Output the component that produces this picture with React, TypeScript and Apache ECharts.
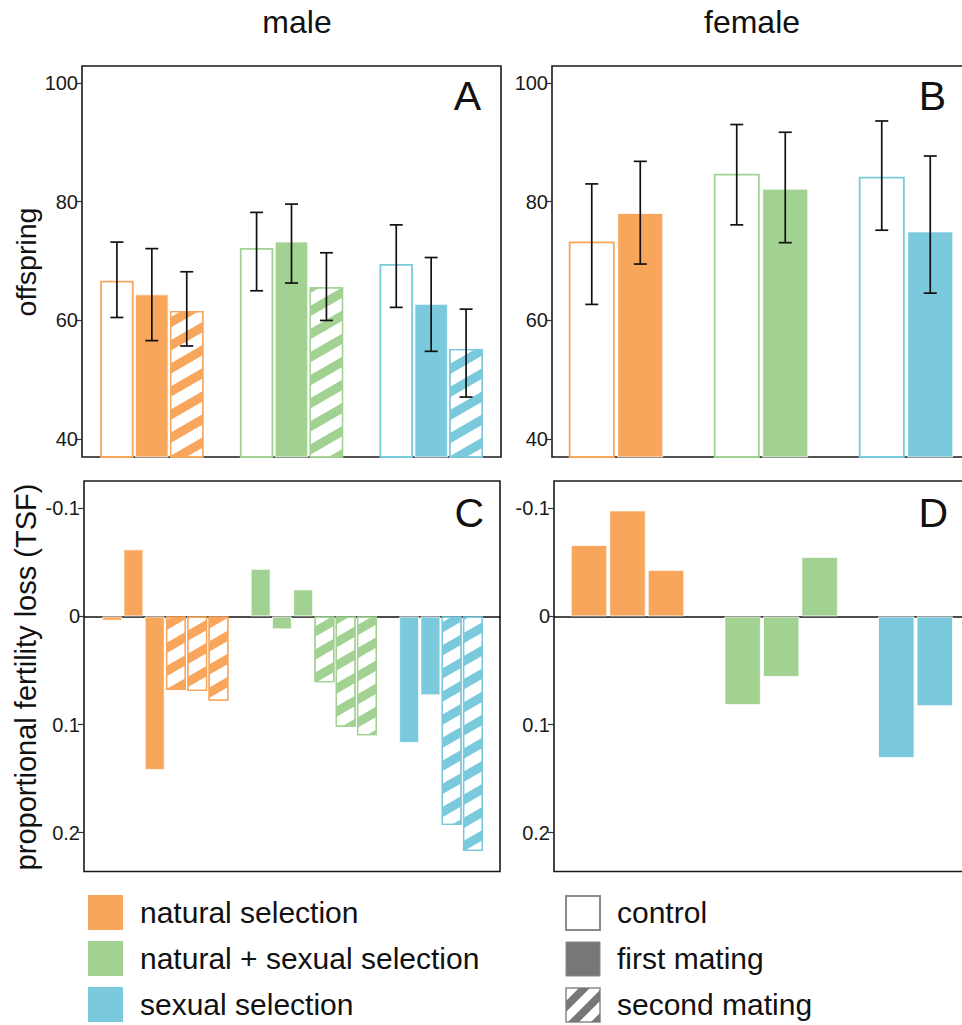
import React, { useEffect, useRef } from 'react';
import * as echarts from 'echarts';

// ---------- data ----------
const groups = ['natural selection', 'natural + sexual selection', 'sexual selection'];
const matingTypes = ['control', 'first mating', 'second mating'];

// Panel A: male offspring (mean, lower, upper)
const maleControl = [66.7, 72.2, 69.5];
const maleControlLo = [60.5, 65.0, 62.2];
const maleControlHi = [73.2, 78.2, 76.1];
const maleFirst = [64.4, 73.3, 62.8];
const maleFirstLo = [56.6, 66.3, 54.8];
const maleFirstHi = [72.1, 79.6, 70.6];
const maleSecond = [61.6, 65.6, 55.2];
const maleSecondLo = [55.7, 60.0, 47.1];
const maleSecondHi = [68.2, 71.4, 61.9];

// Panel B: female offspring
const femaleControl = [73.3, 84.7, 84.2];
const femaleControlLo = [62.7, 76.1, 75.2];
const femaleControlHi = [83.0, 93.0, 93.6];
const femaleFirst = [78.1, 82.2, 75.0];
const femaleFirstLo = [69.5, 73.1, 64.6];
const femaleFirstHi = [86.8, 91.7, 87.7];

// Panel C: male proportional fertility loss (TSF), per replicate
const maleTsfNatural = [0.004, -0.062, 0.142, 0.068, 0.069, 0.078];
const maleTsfNatSex = [-0.044, 0.012, -0.025, 0.061, 0.102, 0.110];
const maleTsfSexual = [0.117, 0.073, 0.193, 0.217];
const maleTsfMatingNatural = ['first', 'first', 'first', 'second', 'second', 'second'];
const maleTsfMatingNatSex = ['first', 'first', 'first', 'second', 'second', 'second'];
const maleTsfMatingSexual = ['first', 'first', 'second', 'second'];

// Panel D: female proportional fertility loss (TSF)
const femaleTsfNatural = [-0.066, -0.098, -0.043];
const femaleTsfNatSex = [0.082, 0.056, -0.055];
const femaleTsfSexual = [0.131, 0.083];

const offspringTicks = [40, 60, 80, 100];
const tsfTicks = [-0.1, 0, 0.1, 0.2];

// ---------- style ----------
const FONT = '"Liberation Sans", Arial, Helvetica, sans-serif';
const groupColors = ['#F8A65C', '#A2D292', '#7AC9DC'];
const matingSwatch = '#777777';

const hatchDecal = (c: string) => ({
  symbol: 'rect',
  symbolSize: 1,
  dashArrayX: [1, 0],
  dashArrayY: [9, 11],
  rotation: -Math.PI / 6,
  color: c,
  backgroundColor: '#ffffff',
});

const styleFor = (type: string, c: string) => {
  if (type === 'control') return { color: '#ffffff', borderColor: c, borderWidth: 1.8 };
  if (type === 'first') return { color: c, borderColor: 'rgba(255,255,255,0.75)', borderWidth: 1 };
  return { color: '#ffffff', borderColor: c, borderWidth: 1.3, decal: hatchDecal(c) };
};

const panels = [
  { grid: { left: 82, top: 66, width: 419, height: 391 }, xMin: 0.5, xMax: 3.5, yMin: 37, yMax: 102.86, inverse: false, ticks: offspringTicks, pitch: 0.25, barWidth: 33.5 },
  { grid: { left: 552, top: 66, width: 416, height: 391 }, xMin: 0.5586, xMax: 3.4276, yMin: 37, yMax: 102.86, inverse: false, ticks: offspringTicks, pitch: 0.3345, barWidth: 46 },
  { grid: { left: 84, top: 481, width: 416, height: 390.5 }, xMin: 0.4525, xMax: 3.2538, yMin: -0.1252, yMax: 0.2359, inverse: true, ticks: tsfTicks, pitch: 0.1432, barWidth: 20 },
  { grid: { left: 554, top: 481, width: 414, height: 390.5 }, xMin: 0.5216, xMax: 3.216, yMin: -0.1252, yMax: 0.2359, inverse: true, ticks: tsfTicks, pitch: 0.2506, barWidth: 36.5 },
];

// ---------- build series data ----------
type Item = { value: number[]; itemStyle: any };

function buildOffspring(arrs: number[][], types: string[], pitch: number): Item[] {
  const out: Item[] = [];
  const n = arrs.length;
  groups.forEach((_, g) => {
    arrs.forEach((arr, k) => {
      out.push({ value: [g + 1 + (k - (n - 1) / 2) * pitch, arr[g]], itemStyle: styleFor(types[k], groupColors[g]) });
    });
  });
  return out;
}

function buildErrors(means: number[][], los: number[][], his: number[][], pitch: number) {
  const out: number[][] = [];
  const n = means.length;
  groups.forEach((_, g) => {
    means.forEach((_m, k) => {
      out.push([g + 1 + (k - (n - 1) / 2) * pitch, los[k][g], his[k][g]]);
    });
  });
  return out;
}

function buildTsf(vals: number[][], types: string[][], pitch: number, slots: number): Item[] {
  const out: Item[] = [];
  vals.forEach((arr, g) => {
    arr.forEach((v, k) => {
      out.push({ value: [g + 1 + (k - (slots - 1) / 2) * pitch, v], itemStyle: styleFor(types[g][k], groupColors[g]) });
    });
  });
  return out;
}

// stripe polygon helper for the legend swatch
function clipHalf(poly: number[][], keep: (p: number[]) => number): number[][] {
  const res: number[][] = [];
  for (let i = 0; i < poly.length; i++) {
    const a = poly[i];
    const b = poly[(i + 1) % poly.length];
    const fa = keep(a);
    const fb = keep(b);
    if (fa >= 0) res.push(a);
    if ((fa >= 0) !== (fb >= 0)) {
      const t = fa / (fa - fb);
      res.push([a[0] + t * (b[0] - a[0]), a[1] + t * (b[1] - a[1])]);
    }
  }
  return res;
}
function stripe(x0: number, y0: number, s: number, c1: number, c2: number) {
  let poly = [[0, 0], [s, 0], [s, s], [0, s]];
  poly = clipHalf(poly, (p) => p[0] + p[1] - c1);
  poly = clipHalf(poly, (p) => c2 - (p[0] + p[1]));
  return poly.map((p) => [x0 + p[0], y0 + p[1]]);
}

function errorRenderer(params: any, api: any) {
  const x = api.value(0);
  const pLo = api.coord([x, api.value(1)]);
  const pHi = api.coord([x, api.value(2)]);
  const hw = 6.5;
  const style = { stroke: '#111111', lineWidth: 1.7, fill: null };
  return {
    type: 'group',
    children: [
      { type: 'line', shape: { x1: pLo[0], y1: pLo[1], x2: pHi[0], y2: pHi[1] }, style },
      { type: 'line', shape: { x1: pLo[0] - hw, y1: pLo[1], x2: pLo[0] + hw, y2: pLo[1] }, style },
      { type: 'line', shape: { x1: pHi[0] - hw, y1: pHi[1], x2: pHi[0] + hw, y2: pHi[1] }, style },
    ],
  };
}

export default function App() {
  const ref = useRef<HTMLDivElement>(null);
  useEffect(() => {
    if (!ref.current) return;
    const chart = echarts.init(ref.current, null, { renderer: 'svg' });

    const grids = panels.map((p) => ({
      ...p.grid,
      containLabel: false,
      outerBoundsMode: 'none',
      show: true,
      borderColor: '#1a1a1a',
      borderWidth: 1.6,
      backgroundColor: 'transparent',
    }));

    const xAxes = panels.map((p, i) => ({
      type: 'value',
      gridIndex: i,
      min: p.xMin,
      max: p.xMax,
      axisLabel: { show: false },
      axisTick: { show: false },
      splitLine: { show: false },
      axisLine: { show: p.inverse, onZero: true, lineStyle: { color: '#111111', width: 1.6 } },
    }));

    const yAxes = panels.map((p, i) => ({
      type: 'value',
      gridIndex: i,
      min: p.yMin,
      max: p.yMax,
      inverse: p.inverse,
      axisLine: { show: false },
      splitLine: { show: false },
      axisTick: { show: true, length: 6, customValues: p.ticks, lineStyle: { color: '#333333', width: 1.2 } },
      axisLabel: {
        customValues: p.ticks,
        fontSize: 20,
        color: '#1a1a1a',
        fontFamily: FONT,
        margin: 4,
        formatter: (v: number) => (Math.abs(v) < 1e-9 ? '0' : String(Math.round(v * 100) / 100)),
      },
    }));

    const dataA = buildOffspring([maleControl, maleFirst, maleSecond], ['control', 'first', 'second'], panels[0].pitch);
    const errA = buildErrors([maleControl, maleFirst, maleSecond], [maleControlLo, maleFirstLo, maleSecondLo], [maleControlHi, maleFirstHi, maleSecondHi], panels[0].pitch);
    const dataB = buildOffspring([femaleControl, femaleFirst], ['control', 'first'], panels[1].pitch);
    const errB = buildErrors([femaleControl, femaleFirst], [femaleControlLo, femaleFirstLo], [femaleControlHi, femaleFirstHi], panels[1].pitch);
    const dataC = buildTsf(
      [maleTsfNatural, maleTsfNatSex, maleTsfSexual],
      [maleTsfMatingNatural, maleTsfMatingNatSex, maleTsfMatingSexual],
      panels[2].pitch,
      6,
    );
    const dataD = buildTsf(
      [femaleTsfNatural, femaleTsfNatSex, femaleTsfSexual],
      [['first', 'first', 'first'], ['first', 'first', 'first'], ['first', 'first']],
      panels[3].pitch,
      3,
    );

    const barSeries = [dataA, dataB, dataC, dataD].map((d, i) => ({
      type: 'bar',
      xAxisIndex: i,
      yAxisIndex: i,
      barWidth: panels[i].barWidth,
      data: d,
      clip: true,
      silent: true,
      z: 2,
    }));

    const errSeries = [errA, errB].map((d, i) => ({
      type: 'custom',
      xAxisIndex: i,
      yAxisIndex: i,
      data: d,
      encode: { x: 0, y: [1, 2] },
      renderItem: errorRenderer,
      clip: false,
      silent: true,
      z: 5,
    }));

    const txt = (text: string, x: number, y: number, size: number, extra: any = {}) => ({
      type: 'text',
      x,
      y,
      style: { text, fontSize: size, fontFamily: FONT, fill: '#111111', align: 'center', verticalAlign: 'middle', ...extra },
      z: 10,
    });

    const graphics: any[] = [
      txt('male', 297, 22, 32),
      txt('female', 752, 22, 32),
      { ...txt('offspring', 26, 262, 28.5), rotation: Math.PI / 2 },
      { ...txt('proportional fertility loss (TSF)', 26, 677, 29), rotation: Math.PI / 2 },
      txt('A', 481, 96, 41, { align: 'right' }),
      txt('B', 946, 96, 41, { align: 'right' }),
      txt('C', 484, 513, 41, { align: 'right' }),
      txt('D', 948, 513, 41, { align: 'right' }),
    ];

    const legendRowsY = [895, 941, 987];
    const sq = 35;
    groups.forEach((g, i) => {
      graphics.push({ type: 'rect', shape: { x: 88, y: legendRowsY[i], width: sq, height: sq }, style: { fill: groupColors[i] }, z: 10 });
      graphics.push(txt(g, 140, legendRowsY[i] + sq / 2, 30, { align: 'left' }));
    });
    // mating legend
    graphics.push({ type: 'rect', shape: { x: 566, y: legendRowsY[0] + 1, width: sq - 1, height: sq - 1 }, style: { fill: '#ffffff', stroke: '#8a8a8a', lineWidth: 2 }, z: 10 });
    graphics.push({ type: 'rect', shape: { x: 566, y: legendRowsY[1] + 1, width: sq - 1, height: sq - 1 }, style: { fill: matingSwatch, stroke: '#888888', lineWidth: 1 }, z: 10 });
    graphics.push({ type: 'rect', shape: { x: 566, y: legendRowsY[2] + 1, width: sq - 1, height: sq - 1 }, style: { fill: '#ffffff', stroke: '#8a8a8a', lineWidth: 1.5 }, z: 10 });
    [[13, 24], [36, 47], [59, 70]].forEach(([a, b]) => {
      graphics.push({ type: 'polygon', shape: { points: stripe(566, legendRowsY[2] + 1, sq - 1, a, b) }, style: { fill: matingSwatch }, z: 11 });
    });
    matingTypes.forEach((m, i) => {
      graphics.push(txt(m, 617, legendRowsY[i] + sq / 2, 30, { align: 'left' }));
    });

    chart.setOption({
      animation: false,
      backgroundColor: '#ffffff',
      grid: grids,
      xAxis: xAxes,
      yAxis: yAxes,
      series: [...barSeries, ...errSeries],
      graphic: { elements: graphics },
    });

    return () => chart.dispose();
  }, []);

  return <div ref={ref} style={{ position: 'absolute', left: 0, top: 0, width: 962, height: 1025 }} />;
}
